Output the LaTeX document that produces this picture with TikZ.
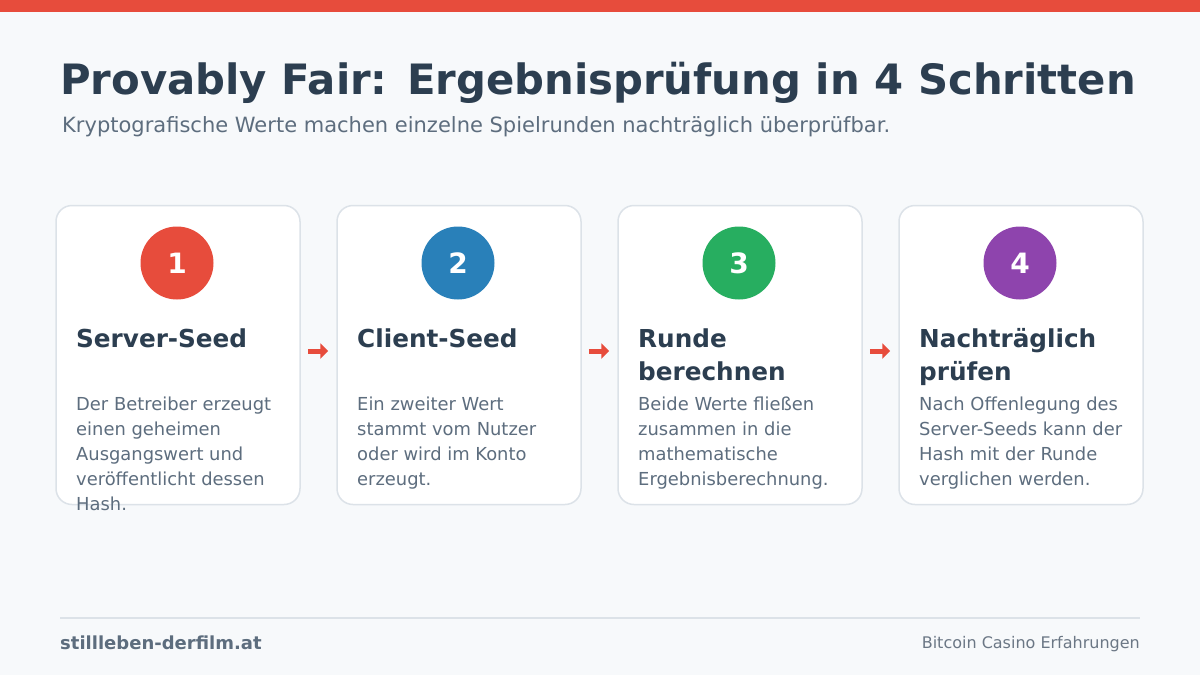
\documentclass[tikz,border=0pt]{standalone}
\usepackage{fontspec}
\setmainfont{DejaVu Sans}
\usetikzlibrary{arrows.meta,calc}
\definecolor{topred}{HTML}{E74C3C}
\definecolor{bg}{HTML}{F7F9FB}
\definecolor{titlec}{HTML}{2C3E50}
\definecolor{subc}{HTML}{5D6D7E}
\definecolor{cardborder}{HTML}{DCE2E8}
\definecolor{cred}{HTML}{E74C3C}
\definecolor{cblue}{HTML}{2980B9}
\definecolor{cgreen}{HTML}{27AE60}
\definecolor{cpurple}{HTML}{8E44AD}
\definecolor{footc}{HTML}{6B7785}
\tikzset{
  card/.style={draw=cardborder, line width=1.5pt, fill=white, rounded corners=16pt,
    minimum width=244pt, minimum height=299pt, inner sep=0pt},
  numcirc/.style={circle, fill=#1, minimum size=73pt, inner sep=0pt,
    text=white, font=\fontsize{28}{28}\selectfont\bfseries},
  cardtitle/.style={anchor=base west, inner sep=0pt, text=titlec, align=left,
    font=\fontsize{24.7}{33}\selectfont\bfseries},
  carddesc/.style={anchor=base west, inner sep=0pt, text=subc, align=left,
    font=\fontsize{17.9}{25}\selectfont},
  flowarrow/.style={draw=cred, line width=5pt, -{Triangle[length=8pt,width=15pt]}}
}
\begin{document}
\begin{tikzpicture}[x=1pt,y=-1pt]
\useasboundingbox (0,0) rectangle (1200,675);
\fill[bg] (0,0) rectangle (1200,675);
\fill[topred] (0,0) rectangle (1200,12);
\node[anchor=base west, inner sep=0pt, text=titlec, font=\fontsize{41.8}{42}\selectfont\bfseries] (title) at (60,94) {Provably Fair: Ergebnisprüfung in 4 Schritten};
\node[anchor=base west, inner sep=0pt, text=subc, font=\fontsize{21}{21}\selectfont] (sub) at (62,132) {Kryptografische Werte machen einzelne Spielrunden nachträglich überprüfbar.};
% cards
\node[card] (c1) at (178,355) {};
\node[card] (c2) at (459,355) {};
\node[card] (c3) at (740,355) {};
\node[card] (c4) at (1021,355) {};
\node[numcirc=cred] (n1) at (177,263) {1};
\node[numcirc=cblue] (n2) at (458,263) {2};
\node[numcirc=cgreen] (n3) at (739,263) {3};
\node[numcirc=cpurple] (n4) at (1020,263) {4};
% base anchor of a multi-line node = baseline of its last line
\node[cardtitle] (t1) at (76,347) {Server-Seed};
\node[cardtitle] (t2) at (357,347) {Client-Seed};
\node[cardtitle] (t3) at (638,380) {Runde\\berechnen};
\node[cardtitle] (t4) at (919,380) {Nachträglich\\prüfen};
\node[carddesc] (d1) at (76,510) {Der Betreiber erzeugt\\einen geheimen\\Ausgangswert und\\veröffentlicht dessen\\Hash.};
\node[carddesc] (d2) at (357,485) {Ein zweiter Wert\\stammt vom Nutzer\\oder wird im Konto\\erzeugt.};
\node[carddesc] (d3) at (638,485) {Beide Werte fließen\\zusammen in die\\mathematische\\Ergebnisberechnung.};
\node[carddesc] (d4) at (919,485) {Nach Offenlegung des\\Server-Seeds kann der\\Hash mit der Runde\\verglichen werden.};
% arrows
\draw[flowarrow] ($(c1.east)+(7,-4)$) -- ($(c2.west)+(-8,-4)$);
\draw[flowarrow] ($(c2.east)+(7,-4)$) -- ($(c3.west)+(-8,-4)$);
\draw[flowarrow] ($(c3.east)+(7,-4)$) -- ($(c4.west)+(-8,-4)$);
% footer
\coordinate (fl) at (60,618);
\coordinate (fr) at (1140,618);
\draw[cardborder, line width=1.5pt] (fl) -- (fr);
\node[anchor=base west, inner sep=0pt, text=subc, font=\fontsize{18}{18}\selectfont\bfseries] (fleft) at (60,649) {stillleben-derfilm.at};
\node[anchor=base east, inner sep=0pt, text=footc, font=\fontsize{16}{16}\selectfont] (fright) at (1140,648) {Bitcoin Casino Erfahrungen};
\end{tikzpicture}
\end{document}
